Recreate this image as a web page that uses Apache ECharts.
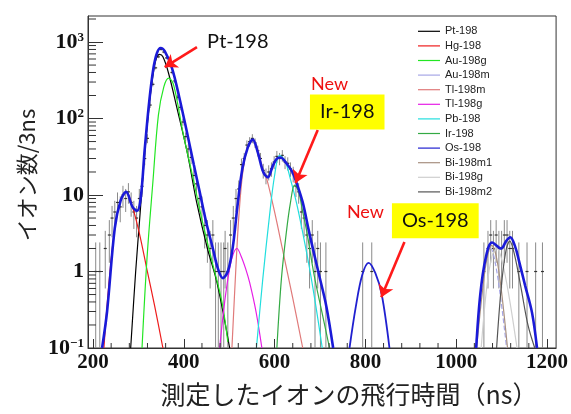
<!DOCTYPE html>
<html><head><meta charset="utf-8">
<script src="https://cdn.jsdelivr.net/npm/echarts@6/dist/echarts.min.js"></script>
<style>html,body{margin:0;padding:0;background:#fff}#c{width:571px;height:414px}</style>
</head><body><div id="c"></div>
<script>
// ---- axis ticks ----
const xTickLabels = [200, 400, 600, 800, 1000, 1200];
const xMinorTicks = [240,280,320,360,440,480,520,560,640,680,720,760,840,880,920,960,1040,1080,1120,1160];
const yTickLabels = [0.1, 1, 10, 100, 1000];
const yMinorTicks = [0.2,0.3,0.4,0.5,0.6,0.7,0.8,0.9,2,3,4,5,6,7,8,9,20,30,40,50,60,70,80,90,200,300,400,500,600,700,800,900,2000];

// ---- measured data (TOF ns, counts per 3ns, error) ----
const measX = [206,215,227,236,242,248,254,260,266,272,278,284,290,296,302,308,314,320,326,332,338,344,350,356,362,368,374,380,386,392,398,404,410,416,422,428,434,440,446,452,458,464,470,476,482,488,491,497,503,509,515,521,527,533,539,545,551,557,563,569,575,581,587,593,599,605,611,617,623,629,635,641,647,653,659,665,671,677,683,689,695,701,713,794,814,1061,1070,1076,1082,1088,1094,1100,1106,1112,1118,1124,1138,1156,1175,1190];
const measY = [1,1,2,3,5,6,8,7,10,9,11,8,6,5,9,13,30,55,150,280,460,640,800,740,620,540,400,310,190,140,90,58,40,31,18,14,9,7,4,3,2,3,1,1,1,1,2,1,3,5,9,12,25,30,45,50,55,48,38,30,21,18,20,22,27,32,30,33,27,26,22,19,13,11,6,5,3,2,3,1,2,1,1,1,1,1,2,3,2,3,2,2,3,3,2,2,1,1,1,1];
const measErr = [1.4,1.4,1.4,1.7,2.2,2.4,2.8,2.6,3.2,3,3.3,2.8,2.4,2.2,3,3.6,5.5,7.4,12.2,16.7,21.4,25.3,28.3,27.2,24.9,23.2,20,17.6,13.8,11.8,9.5,7.6,6.3,5.6,4.2,3.7,3,2.6,2,1.7,1.4,1.7,1.4,1.4,1.4,1.4,1.4,1.4,1.7,2.2,3,3.5,5,5.5,6.7,7.1,7.4,6.9,6.2,5.5,4.6,4.2,4.5,4.7,5.2,5.7,5.5,5.7,5.2,5.1,4.7,4.4,3.6,3.3,2.4,2.2,1.7,1.4,1.7,1.4,1.4,1.4,1.4,1.4,1.4,1.4,1.4,1.7,1.4,1.7,1.4,1.4,1.7,1.7,1.4,1.4,1.4,1.4,1.4,1.4];

// ---- fit components [ns, counts] ----
const pt198 = [[283,0.1],[294,1],[304,6],[314,35],[324,150],[333,400],[340,620],[347,690],[354,640],[366,400],[385,137],[408,35],[428,8.2],[452,2],[473,0.72],[501,0.1]];
const hg198 = [[224,0.1],[236,0.8],[248,3.7],[261,8.5],[273,11],[287,7],[303,3],[319,1.05],[336,0.35],[354,0.1]];
const au198g = [[308,0.1],[319,1.5],[332,15],[344,110],[356,260],[367,338],[378,270],[398,66],[420,17],[441,4.5],[463,1.3],[484,0.4],[497,0.12]];
const au198m = [[1043,0.1],[1052,0.4],[1064,1.3],[1076,2],[1086,1.3],[1099,0.4],[1111,0.1]];
const tl198m = [[506,0.1],[515,1.2],[521,5],[529,18],[538,38],[546,50],[552,52],[561,42],[574,22],[583,16],[600,6],[617,2],[640,0.45],[662,0.1]];
const tl198g = [[479,0.1],[490,0.4],[501,1.1],[509,1.7],[517,2],[526,1.6],[536,1.1],[545,0.72],[559,0.3],[572,0.1]];
const pb198 = [[560,0.1],[574,0.8],[589,5.5],[600,18],[611,33],[623,28],[635,16],[648,8],[663,3],[677,1.1],[691,0.35],[705,0.1]];
const ir198 = [[605,0.1],[615,0.8],[626,3.3],[635,8],[644,13.5],[653,11],[662,6],[671,3.3],[687,0.9],[704,0.3],[721,0.1]];
const os198 = [[765,0.1],[779,0.35],[793,0.9],[807,1.3],[822,0.95],[836,0.5],[853,0.1]];
const bi198m1 = [[1045,0.1],[1057,0.5],[1067,1.4],[1078,2.2],[1088,1.6],[1099,0.6],[1113,0.1]];
const bi198g = [[1055,0.1],[1067,0.6],[1079,1.6],[1090,2],[1102,1.3],[1117,0.45],[1134,0.1]];
const bi198m2 = [[1089,0.1],[1099,0.6],[1109,1.8],[1118,2.5],[1129,1.6],[1143,0.6],[1158,0.2],[1173,0.1]];

// ---- total fit ----
const totalA = [[220,0.1],[231,0.3],[248,3.7],[261,8.5],[273,11],[287,7],[297,6.2],[305,9],[314,40],[324,170],[333,450],[341,720],[349,835],[358,760],[374,457],[390,190],[407,66],[422,25],[435,11],[449,4.5],[464,2],[475,1.1],[486,0.82],[497,1.0],[508,2.1],[518,7],[529,22],[541,42],[552,53],[563,36],[575,20],[585,17],[596,24],[605,30],[613,31],[626,26],[639,20],[651,13],[662,8],[675,3.5],[687,1.7],[698,0.9],[714,0.35],[729,0.1]];
const totalB = [[1044,0.1],[1053,0.5],[1065,1.5],[1079,2.4],[1099,2.0],[1110,2.5],[1119,2.8],[1130,2.1],[1138,1.4],[1152,0.65],[1167,0.29],[1178,0.1]];

const componentNames = ['Pt-198','Hg-198','Au-198g','Au-198m','Tl-198m','Tl-198g','Pb-198','Ir-198','Os-198','Bi-198m1','Bi-198g','Bi-198m2'];
const componentData = [pt198,hg198,au198g,au198m,tl198m,tl198g,pb198,ir198,os198,bi198m1,bi198g,bi198m2];
const componentColors = ['#000000','#ee1c1c','#22e622','#a6a6e6','#e07a7a','#e61ee6','#22dede','#33aa44','#2020d0','#a89080','#cfcfcf','#555555'];

const X_MIN = 189, X_MAX = 1220, Y_MIN = 0.1, Y_MAX = 2190;

const chart = echarts.init(document.getElementById('c'));
const series = [];

series.push({
  type: 'custom', name: 'data', z: 1, clip: true,
  data: measX.map((x, i) => [x, measY[i], measErr[i]]),
  encode: { x: 0, y: 1 },
  renderItem: (params, api) => {
    const x = api.value(0), y = api.value(1), e = api.value(2);
    const top = api.coord([x, y + e]);
    const bot = api.coord([x, y - e > Y_MIN ? y - e : Y_MIN]);
    const p = api.coord([x, y]);
    return { type: 'group', children: [
      { type: 'line', shape: { x1: top[0], y1: top[1], x2: bot[0], y2: bot[1] }, style: { stroke: '#8a8a8a', lineWidth: 1 } },
      { type: 'line', shape: { x1: p[0]-1.5, y1: p[1], x2: p[0]+1.5, y2: p[1] }, style: { stroke: '#333', lineWidth: 1.2 } }
    ]};
  }
});

componentNames.forEach((n, i) => {
  series.push({
    type: 'line', name: n, data: componentData[i], smooth: 0.35, symbol: 'none', z: 3,
    lineStyle: { color: componentColors[i], width: (n === 'Os-198') ? 1.8 : 1.2, type: (n === 'Au-198m') ? 'dashed' : 'solid' },
    itemStyle: { color: componentColors[i] }
  });
});

[totalA, totalB].forEach((d, i) => {
  series.push({ type: 'line', name: 'fit' + i, data: d, smooth: 0.35, symbol: 'none', z: 4,
    lineStyle: { color: '#1a1ad8', width: 2.6 } });
});

// minor ticks
series.push({
  type: 'custom', name: 'yminor', silent: true, z: 5, clip: false,
  data: yMinorTicks.map(v => [X_MIN, v]), encode: { x: 0, y: 1 },
  renderItem: (params, api) => { const p = api.coord([X_MIN, api.value(1)]);
    return { type: 'line', shape: { x1: p[0], y1: p[1], x2: p[0] + 8, y2: p[1] }, style: { stroke: '#333', lineWidth: 1 } }; }
});
series.push({
  type: 'custom', name: 'xminor', silent: true, z: 5, clip: false,
  data: xMinorTicks.map(v => [v, Y_MIN]), encode: { x: 0, y: 1 },
  renderItem: (params, api) => { const p = api.coord([api.value(0), Y_MIN]);
    return { type: 'line', shape: { x1: p[0], y1: p[1], x2: p[0], y2: p[1] - 5 }, style: { stroke: '#333', lineWidth: 1 } }; }
});

// annotations
const annFont = 'Lato, "Open Sans", sans-serif';
series.push({
  type: 'line', name: 'annot', data: [], z: 10,
  markLine: {
    silent: true, symbol: ['none', 'arrow'], symbolSize: [12, 12],
    lineStyle: { color: '#ff1a1a', width: 2.6, type: 'solid' }, label: { show: false },
    data: [
      [{ coord: [429, 860] }, { coord: [358, 471] }],
      [{ coord: [695, 71] }, { coord: [646, 14.4] }],
      [{ coord: [886, 2.43] }, { coord: [835, 0.46] }]
    ]
  },
  markPoint: {
    silent: true, symbol: 'rect', symbolSize: 0.01,
    data: [
      { coord: [519, 1000], label: { show: true, position: 'inside', formatter: 'Pt-198', color: '#111', fontSize: 20, fontFamily: annFont } },
      { coord: [721, 283], label: { show: true, position: 'inside', formatter: 'New', color: '#ee1111', fontSize: 18, fontFamily: annFont } },
      { coord: [760, 122], label: { show: true, position: 'inside', formatter: 'Ir-198', color: '#111', fontSize: 20, fontFamily: annFont, backgroundColor: '#ffff00', padding: [8, 10, 7, 10] } },
      { coord: [800, 6.0], label: { show: true, position: 'inside', formatter: 'New', color: '#ee1111', fontSize: 18, fontFamily: annFont } },
      { coord: [954, 4.6], label: { show: true, position: 'inside', formatter: 'Os-198', color: '#111', fontSize: 20, fontFamily: annFont, backgroundColor: '#ffff00', padding: [8, 10, 7, 10] } }
    ]
  }
});

const serif = '"Liberation Serif", "DejaVu Serif", serif';
chart.setOption({
  animation: false,
  backgroundColor: '#fff',
  grid: { left: 88, right: 14, top: 16, bottom: 66, show: true, borderColor: '#333', borderWidth: 1 },
  legend: {
    data: componentNames, orient: 'vertical', left: 413, top: 19, itemWidth: 22, itemHeight: 1.2, itemGap: 0,
    icon: 'rect',
    selectedMode: false, textStyle: { fontFamily: '"Liberation Sans", Arial, sans-serif', fontSize: 11, color: '#222', lineHeight: 14.6 }
  },
  xAxis: {
    type: 'value', min: X_MIN, max: X_MAX,
    name: '測定したイオンの飛行時間（ns）', nameLocation: 'middle', nameGap: 34,
    nameTextStyle: { fontFamily: '"Noto Sans CJK JP", sans-serif', fontSize: 25, color: '#222', padding: [0, 0, 0, 54] },
    axisLine: { show: true, lineStyle: { color: '#333' } },
    axisTick: { show: true, inside: true, length: 9, customValues: xTickLabels, lineStyle: { color: '#333' } },
    axisLabel: { customValues: xTickLabels, margin: 4, fontFamily: serif, fontWeight: 'bold', fontSize: 21, color: '#111', formatter: v => String(v) },
    splitLine: { show: false }
  },
  yAxis: {
    type: 'log', logBase: 10, min: Y_MIN, max: Y_MAX,
    name: 'イオン数/3ns', nameLocation: 'middle', nameGap: 49, nameRotate: 90,
    nameTextStyle: { fontFamily: '"Noto Sans CJK JP", sans-serif', fontSize: 22, color: '#222', padding: [0, 0, 0, 14] },
    axisLine: { show: true, lineStyle: { color: '#333' } },
    axisTick: { show: true, inside: true, length: 15, customValues: yTickLabels, lineStyle: { color: '#333' } },
    axisLabel: {
      customValues: yTickLabels, margin: 4,
      formatter: v => {
        const k = Math.round(Math.log10(v));
        if (k === 0) return '{b|1}';
        if (k === 1) return '{b|10}';
        return '{b|10}{s|' + (k < 0 ? '−' + (-k) : k) + '}';
      },
      rich: {
        b: { fontFamily: serif, fontWeight: 'bold', fontSize: 22, color: '#111' },
        s: { fontFamily: serif, fontWeight: 'bold', fontSize: 13, color: '#111', verticalAlign: 'top', padding: [0, 0, 8, 0] }
      }
    },
    splitLine: { show: false }
  },
  series: series
});
</script>
</body></html>
